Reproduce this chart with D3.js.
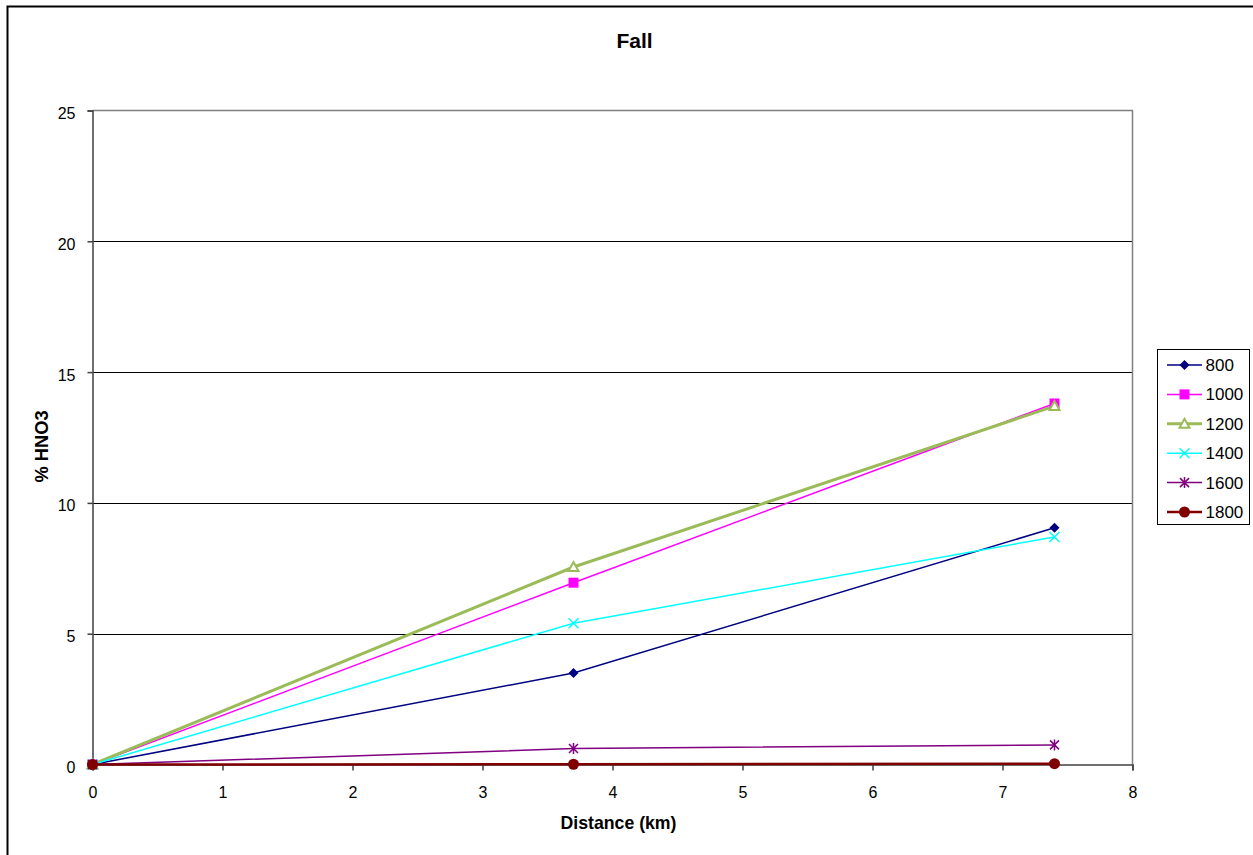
<!DOCTYPE html>
<html><head><meta charset="utf-8">
<script src="https://cdn.jsdelivr.net/npm/d3@7"></script>
<style>body{margin:0;background:#fff}svg{display:block;font-family:"Liberation Sans",Arial,sans-serif}</style>
</head><body>
<svg id="c" width="1253" height="855"></svg>
<script>
const distances = [0, 3.7, 7.4];
const seriesNames = ["800", "1000", "1200", "1400", "1600", "1800"];
const v800 = [0, 3.5, 9.05];
const v1000 = [0, 6.95, 13.8];
const v1200 = [0, 7.55, 13.7];
const v1400 = [0, 5.4, 8.7];
const v1600 = [0, 0.61, 0.75];
const v1800 = [0, 0.01, 0.03];
const xTicks = [0, 1, 2, 3, 4, 5, 6, 7, 8];
const yTicks = [0, 5, 10, 15, 20, 25];

const values = [v800, v1000, v1200, v1400, v1600, v1800];
const styles = [
  {color:"#000080", w:1.5, m:"diamond"},
  {color:"#FF00FF", w:1.5, m:"square"},
  {color:"#9BBB59", w:3, m:"triangle"},
  {color:"#00FFFF", w:1.5, m:"x"},
  {color:"#800080", w:1.5, m:"star"},
  {color:"#800000", w:2.5, m:"circle"}
];

const svg = d3.select("#c");
svg.append("rect").attr("x",7.5).attr("y",6.5).attr("width",1300).attr("height",900)
  .attr("fill","#fff").attr("stroke","#000").attr("stroke-width",2);

const L=92.5, R=1132.5, T=110.5, B=764.5;
const x = d3.scaleLinear().domain([0,8]).range([L,R]);
const y = d3.scaleLinear().domain([0,25]).range([B,T]);

// gridlines
svg.append("g").selectAll("line").data(yTicks.filter(d=>d>0&&d<25)).join("line")
  .attr("x1",L).attr("x2",R).attr("y1",d=>Math.round(y(d))+0.5).attr("y2",d=>Math.round(y(d))+0.5)
  .attr("stroke","#000").attr("stroke-width",1);
// plot border top/right grey
svg.append("path").attr("d",`M${L},${T}H${R}V${B}`).attr("fill","none").attr("stroke","#808080").attr("stroke-width",1.5);

// axes
const yAxis = d3.axisLeft(y).tickValues(yTicks).tickSize(5).tickPadding(12).tickFormat(d3.format("d"));
const gy = svg.append("g").attr("transform",`translate(${L},0)`).call(yAxis);
const xAxis = d3.axisBottom(x).tickValues(xTicks).tickSize(6).tickPadding(16).tickFormat(d3.format("d"));
const gx = svg.append("g").attr("transform",`translate(0,${B})`).call(xAxis);
[gy,gx].forEach(g=>{
  g.select(".domain").attr("stroke","#404040").attr("stroke-width",1.5);
  g.selectAll(".tick line").attr("stroke","#404040").attr("stroke-width",1.5);
  g.selectAll("text").attr("font-size",16).attr("fill","#000").attr("font-family","Liberation Sans, Arial, sans-serif");
});
gy.selectAll("text").attr("dy","0.5em");

// marker drawing
function marker(g, type, color, cx, cy){
  const s=5;
  if(type==="diamond") g.append("path").attr("d",`M${cx},${cy-s}L${cx+s},${cy}L${cx},${cy+s}L${cx-s},${cy}Z`).attr("fill",color);
  else if(type==="square") g.append("rect").attr("x",cx-5).attr("y",cy-5).attr("width",10).attr("height",10).attr("fill",color);
  else if(type==="triangle") g.append("path").attr("d",`M${cx},${cy-5}L${cx+5},${cy+4}L${cx-5},${cy+4}Z`).attr("fill","#fff").attr("stroke",color).attr("stroke-width",2);
  else if(type==="x") g.append("path").attr("d",`M${cx-5},${cy-5}L${cx+5},${cy+5}M${cx-5},${cy+5}L${cx+5},${cy-5}`).attr("stroke",color).attr("stroke-width",1.5);
  else if(type==="star") g.append("path").attr("d",`M${cx-4.5},${cy-4.5}L${cx+4.5},${cy+4.5}M${cx-4.5},${cy+4.5}L${cx+4.5},${cy-4.5}M${cx},${cy-5.5}V${cy+5.5}`).attr("stroke",color).attr("stroke-width",1.5);
  else if(type==="circle") g.append("circle").attr("cx",cx).attr("cy",cy).attr("r",5.5).attr("fill",color);
}

const line = d3.line().x((d,i)=>x(distances[i])).y(d=>y(d));
const gs = svg.append("g");
values.forEach((vals,k)=>{
  const st=styles[k];
  gs.append("path").datum(vals).attr("d",line).attr("fill","none").attr("stroke",st.color).attr("stroke-width",st.w);
});
values.forEach((vals,k)=>{
  const st=styles[k];
  vals.forEach((v,i)=>marker(gs, st.m, st.color, x(distances[i]), y(v)));
});

// titles
svg.append("text").attr("x",634.5).attr("y",47.5).attr("text-anchor","middle").attr("font-size",21).attr("font-weight","bold").text("Fall");
svg.append("text").attr("x",618.5).attr("y",828.5).attr("text-anchor","middle").attr("font-size",17.7).attr("font-weight","bold").text("Distance (km)");
svg.append("text").attr("transform","translate(47.5,446.5) rotate(-90)").attr("text-anchor","middle").attr("font-size",18.3).attr("font-weight","bold").text("% HNO3");

// legend
const lg = svg.append("g");
lg.append("rect").attr("x",1157.5).attr("y",349.5).attr("width",92).attr("height",175).attr("fill","#fff").attr("stroke","#000").attr("stroke-width",1);
seriesNames.forEach((n,k)=>{
  const st=styles[k];
  const cy=365+k*29.4;
  lg.append("line").attr("x1",1167).attr("x2",1202).attr("y1",cy).attr("y2",cy).attr("stroke",st.color).attr("stroke-width",st.w);
  marker(lg, st.m, st.color, 1184.5, cy);
  lg.append("text").attr("x",1205.5).attr("y",cy+6).attr("font-size",17).text(n);
});
</script>
</body></html>
